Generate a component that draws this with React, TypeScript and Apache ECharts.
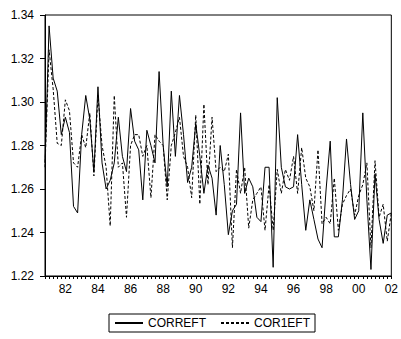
import React, { useEffect, useRef } from "react";
import * as echarts from "echarts";

// Quarterly observations, 1980Q4 .. 2002Q1
const firstYear = 1980;
const firstQuarter = 4;

const correft = [
  1.272, 1.335, 1.311, 1.305, 1.285, 1.293, 1.286, 1.252, 1.249, 1.285,
  1.303, 1.292, 1.268, 1.307, 1.272, 1.26, 1.264, 1.272, 1.293, 1.275,
  1.268, 1.297, 1.282, 1.278, 1.255, 1.287, 1.28, 1.272, 1.314, 1.28,
  1.261, 1.305, 1.275, 1.303, 1.285, 1.263, 1.27, 1.29, 1.275, 1.258,
  1.271, 1.265, 1.248, 1.28, 1.262, 1.239, 1.25, 1.253, 1.295, 1.258,
  1.265, 1.261, 1.247, 1.245, 1.27, 1.27, 1.224, 1.302, 1.27, 1.261,
  1.26, 1.261, 1.285, 1.262, 1.241, 1.255, 1.246, 1.237, 1.233, 1.26,
  1.282, 1.238, 1.238, 1.255, 1.283, 1.262, 1.246, 1.25, 1.295, 1.255,
  1.223, 1.267, 1.246, 1.235, 1.248, 1.249,
];

const cor1eft = [
  1.27, 1.324, 1.306, 1.281, 1.28, 1.301, 1.296, 1.272, 1.27, 1.285,
  1.279, 1.295, 1.266, 1.303, 1.28, 1.27, 1.243, 1.303, 1.27, 1.272,
  1.247, 1.28, 1.285, 1.285, 1.275, 1.28, 1.256, 1.285, 1.282, 1.28,
  1.255, 1.28, 1.286, 1.293, 1.275, 1.27, 1.256, 1.294, 1.253, 1.299,
  1.262, 1.293, 1.268, 1.27, 1.268, 1.276, 1.233, 1.269, 1.258, 1.27,
  1.242, 1.255, 1.258, 1.261, 1.241, 1.262, 1.241, 1.269, 1.258, 1.269,
  1.264, 1.275, 1.258, 1.279, 1.265, 1.261, 1.25, 1.278, 1.244, 1.247,
  1.244, 1.265, 1.241, 1.253, 1.257, 1.26, 1.248, 1.257, 1.262, 1.272,
  1.233, 1.273, 1.247, 1.253, 1.236, 1.249,
];

const seriesNames = ["CORREFT", "COR1EFT"];

// Period labels such as "1981Q1"
const periods: string[] = correft.map((_, i) => {
  const q = firstQuarter - 1 + i;
  return `${firstYear + Math.floor(q / 4)}Q${(q % 4) + 1}`;
});

const FONT = 'Arial, "Liberation Sans", sans-serif';

export default function App() {
  const ref = useRef<HTMLDivElement>(null);

  useEffect(() => {
    if (!ref.current) return;
    const chart = echarts.init(ref.current, undefined, { renderer: "svg" });
    chart.setOption({
      animation: false,
      backgroundColor: "#ffffff",
      textStyle: { fontFamily: FONT },
      grid: {
        left: 45,
        right: 8,
        top: 15,
        bottom: 63,
        show: true,
        borderColor: "#000",
        borderWidth: 1,
      },
      xAxis: {
        type: "category",
        data: periods,
        boundaryGap: false,
        axisLine: { lineStyle: { color: "#000", width: 1 } },
        axisTick: {
          show: true,
          interval: 0,
          length: 3,
          lineStyle: { color: "#000" },
        },
        axisLabel: {
          interval: (index: number, value: string) =>
            value.endsWith("Q1") && Number(value.slice(0, 4)) % 2 === 0,
          formatter: (value: string) => value.slice(2, 4),
          color: "#000",
          fontSize: 12,
          fontFamily: FONT,
          margin: 7,
        },
        splitLine: { show: false },
      },
      yAxis: {
        type: "value",
        min: 1.22,
        max: 1.34,
        interval: 0.02,
        axisLine: { show: true, lineStyle: { color: "#000", width: 1 } },
        axisTick: { show: true, length: 5, lineStyle: { color: "#000" } },
        axisLabel: {
          formatter: (v: number) => v.toFixed(2),
          color: "#000",
          fontSize: 12,
          fontFamily: FONT,
          margin: 11,
        },
        splitLine: { show: false },
      },
      legend: {
        data: seriesNames,
        left: 109,
        top: 314,
        orient: "horizontal",
        borderColor: "#000",
        borderWidth: 1,
        padding: [3, 5],
        itemWidth: 28,
        itemHeight: 12,
        itemGap: 14,
        itemStyle: { opacity: 0 },
        textStyle: { color: "#000", fontSize: 12, fontFamily: FONT },
      },
      series: [
        {
          name: seriesNames[0],
          type: "line",
          data: correft,
          symbol: "none",
          lineStyle: { color: "#000", width: 1, type: "solid" },
          itemStyle: { color: "#000" },
        },
        {
          name: seriesNames[1],
          type: "line",
          data: cor1eft,
          symbol: "none",
          lineStyle: { color: "#000", width: 1, type: [3, 2] },
          itemStyle: { color: "#000" },
        },
      ],
    });
    return () => chart.dispose();
  }, []);

  return (
    <div
      ref={ref}
      style={{ position: "fixed", left: 0, top: 0, width: 401, height: 339 }}
    />
  );
}
